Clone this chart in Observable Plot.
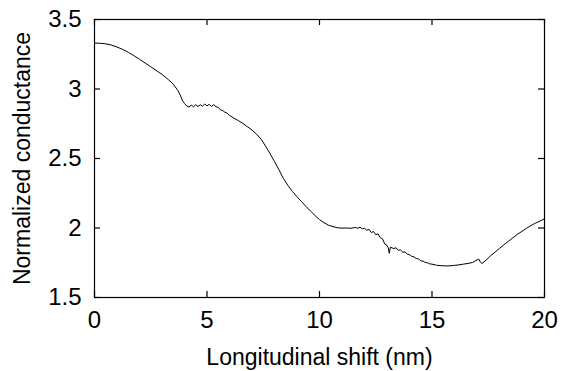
<!DOCTYPE html>
<html>
<head>
<meta charset="utf-8">
<script src="https://cdn.jsdelivr.net/npm/d3@7"></script>
<script src="https://cdn.jsdelivr.net/npm/@observablehq/plot@0.6"></script>
<style>
  html, body { margin: 0; padding: 0; background: #fff; }
  #chart { width: 569px; height: 371px; }
</style>
</head>
<body>
<div id="chart"></div>
<script>
// Longitudinal shift (nm)
const shift = [
  0, 0.25, 0.5, 0.75, 1.0, 1.25, 1.5, 1.75, 2.0, 2.5, 3.0, 3.3, 3.5, 3.7, 3.8, 3.9, 4.0, 4.1,
  4.2, 4.3, 4.4, 4.5, 4.6, 4.7, 4.8, 4.9, 5.0, 5.1, 5.2, 5.3, 5.4, 5.5,
  5.6, 5.7, 5.8, 5.9, 6.0, 6.2, 6.4, 6.6, 6.8, 7.0, 7.2, 7.4, 7.6, 7.8,
  8.0, 8.2, 8.4, 8.6, 8.8, 9.0, 9.2, 9.4, 9.6, 9.8, 10.0, 10.2, 10.4,
  10.6, 10.8, 11.0, 11.2, 11.4, 11.6, 11.7, 11.8, 11.9, 12.0, 12.1, 12.2,
  12.3, 12.4, 12.5, 12.6, 12.7, 12.8, 12.9, 13.0, 13.05, 13.1, 13.15,
  13.3, 13.4, 13.5, 13.6, 13.7, 13.8, 13.9, 14.0, 14.1, 14.2, 14.3, 14.4,
  14.5, 14.6, 14.7, 14.8, 14.9, 15.0, 15.2, 15.4, 15.6, 15.8, 16.0, 16.2,
  16.4, 16.6, 16.8, 17.0, 17.08, 17.15, 17.22, 17.4, 17.6, 17.8, 18.0,
  18.2, 18.4, 18.6, 18.8, 19.0, 19.2, 19.4, 19.6, 19.8, 20.0
];
// Normalized conductance
const conductance = [
  3.330, 3.329, 3.325, 3.316, 3.302, 3.285, 3.264, 3.240, 3.214, 3.160, 3.105, 3.065, 3.035, 2.990, 2.960, 2.920, 2.895, 2.878,
  2.870, 2.884, 2.872, 2.887, 2.874, 2.886, 2.876, 2.892, 2.878, 2.890, 2.875, 2.887, 2.872, 2.868,
  2.850, 2.845, 2.832, 2.825, 2.810, 2.790, 2.772, 2.752, 2.728, 2.705, 2.675, 2.640, 2.590, 2.535,
  2.478, 2.418, 2.355, 2.305, 2.262, 2.225, 2.190, 2.155, 2.122, 2.090, 2.060, 2.038, 2.020,
  2.010, 2.002, 1.999, 2.000, 1.998, 2.004, 1.998, 2.006, 1.994, 1.998, 1.984, 1.990,
  1.968, 1.974, 1.952, 1.958, 1.930, 1.922, 1.885, 1.875, 1.860, 1.818, 1.862,
  1.852, 1.858, 1.840, 1.842, 1.826, 1.828, 1.812, 1.808, 1.796, 1.792, 1.780, 1.778,
  1.764, 1.762, 1.752, 1.750, 1.742, 1.740, 1.732, 1.729, 1.727, 1.728, 1.731, 1.735,
  1.740, 1.745, 1.752, 1.770, 1.776, 1.755, 1.745, 1.768, 1.800, 1.826, 1.853,
  1.880, 1.905, 1.930, 1.955, 1.976, 1.998, 2.018, 2.035, 2.050, 2.066
];
const xTicks = [0, 5, 10, 15, 20];
const yTicks = [1.5, 2, 2.5, 3, 3.5];
const xLabel = "Longitudinal shift (nm)";
const yLabel = "Normalized conductance";

const data = shift.map((s, i) => ({s, g: conductance[i]}));
const font = "Liberation Sans, Arial, Helvetica, sans-serif";
const tickFs = 24;
const labelFs = 23;
const fmt = d => String(d);

const W = 569, H = 371, ML = 94, MR = 25, MT = 19, MB = 74;
const xDom = [0, 20], yDom = [1.5, 3.5];
const tl = 6; // inward tick length in px
// tick length converted to data units (styling only)
const tY = tl * (yDom[1] - yDom[0]) / (H - MT - MB);
const tX = tl * (xDom[1] - xDom[0]) / (W - ML - MR);

const chart = Plot.plot({
  width: W,
  height: H,
  marginLeft: ML,
  marginRight: MR,
  marginTop: MT,
  marginBottom: MB,
  style: {fontFamily: font, fontSize: labelFs + "px", color: "black", background: "white"},
  x: {domain: xDom},
  y: {domain: yDom},
  marks: [
    Plot.axisX(xTicks, {anchor: "bottom", tickSize: 0, tickPadding: 13, fontSize: tickFs, tickFormat: fmt,
      label: null}),
    Plot.axisX({anchor: "bottom", ticks: [], label: xLabel, labelAnchor: "center", labelOffset: 67,
      labelArrow: "none", fontSize: labelFs, tickSize: 0}),
    Plot.axisY(yTicks, {anchor: "left", tickSize: 0, tickPadding: 13, fontSize: tickFs, tickFormat: fmt,
      label: null}),
    Plot.axisY({anchor: "left", ticks: [], label: yLabel, labelAnchor: "center", labelOffset: 81,
      labelArrow: "none", fontSize: labelFs, tickSize: 0}),
    // inward mirrored ticks
    Plot.ruleX(xTicks, {x: d => d, y1: yDom[0], y2: yDom[0] + tY, stroke: "black", strokeWidth: 1.2}),
    Plot.ruleX(xTicks, {x: d => d, y1: yDom[1], y2: yDom[1] - tY, stroke: "black", strokeWidth: 1.2}),
    Plot.ruleY(yTicks, {y: d => d, x1: xDom[0], x2: xDom[0] + tX, stroke: "black", strokeWidth: 1.2}),
    Plot.ruleY(yTicks, {y: d => d, x1: xDom[1], x2: xDom[1] - tX, stroke: "black", strokeWidth: 1.2}),
    Plot.line(data, {x: "s", y: "g", stroke: "black", strokeWidth: 1}),
    Plot.frame({stroke: "black", strokeWidth: 1.2})
  ]
});
document.getElementById("chart").appendChild(chart);
</script>
</body>
</html>
